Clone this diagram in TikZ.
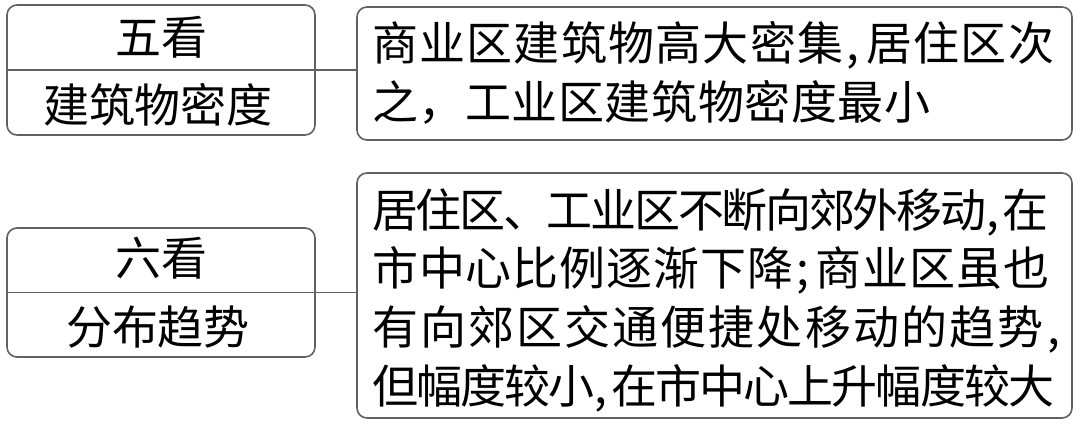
\documentclass[tikz,border=0pt]{standalone}
\usepackage{fontspec}
\setmainfont{Noto Sans CJK SC}
\newcommand\spreadline[2]{\hbox to #1{\spreadA#2\relax}}
\def\spreadA#1{\ifx#1\relax\else#1\expandafter\spreadB\fi}
\def\spreadB#1{\ifx#1\relax\else\hskip 0pt plus 1fil minus 1fil #1\expandafter\spreadB\fi}
\newcommand\hcomma{\makebox[0.45em][l]{\hspace{0.05em},}}
\newcommand\hsemi{\makebox[0.45em][l]{\hspace{0.05em};}}
\begin{document}
\begin{tikzpicture}[x=1pt,y=-1pt,
  box/.style={draw=black!62, line width=1.6pt, rounded corners=10pt, inner sep=0pt},
  conn/.style={draw=black!62, line width=1.6pt},
  txt/.style={inner sep=0pt, font=\fontsize{46}{55}\selectfont},
  ]
\useasboundingbox (0,0) rectangle (1080,428);
% left boxes
\node[box, minimum width=308pt, minimum height=130pt] (L1) at (161,70) {};
\node[box, minimum width=308pt, minimum height=129pt] (L2) at (161,292.5) {};
\draw[conn] (L1.west) -- (L1.east);
\draw[conn] (L2.west) -- (L2.east);
% right boxes
\node[box, minimum width=715pt, minimum height=133pt] (R1) at (714.5,73.5) {};
\node[box, minimum width=715pt, minimum height=245pt] (R2) at (714.5,295.5) {};
% connectors
\draw[conn] (L1.east) -- (L1.east -| R1.west);
\draw[conn] (L2.east) -- (L2.east -| R2.west);
% left texts
\node[txt, anchor=base] (t1) at (161,55) {五看};
\node[txt, anchor=base] (t2) at (158,122) {建筑物密度};
\node[txt, anchor=base] (t3) at (161,275) {六看};
\node[txt, anchor=base] (t4) at (158,344) {分布趋势};
% right texts
\node[txt, anchor=base west] (a1) at (372,61) {\spreadline{682pt}{商业区建筑物高大密集\hcomma 居住区次}};
\node[txt, anchor=base west] (a2) at (372,119) {\spreadline{558pt}{之，工业区建筑物密度最小}};
\node[txt, anchor=base west] (b1) at (372,227) {\spreadline{676pt}{居住区、工业区不断向郊外移动\hcomma 在}};
\node[txt, anchor=base west] (b2) at (372,285.5) {\spreadline{677pt}{市中心比例逐渐下降\hsemi 商业区虽也}};
\node[txt, anchor=base west] (b3) at (372,344.5) {\spreadline{694pt}{有向郊区交通便捷处移动的趋势\hcomma}};
\node[txt, anchor=base west] (b4) at (372,403.5) {\spreadline{682pt}{但幅度较小\hcomma 在市中心上升幅度较大}};
\end{tikzpicture}
\end{document}
